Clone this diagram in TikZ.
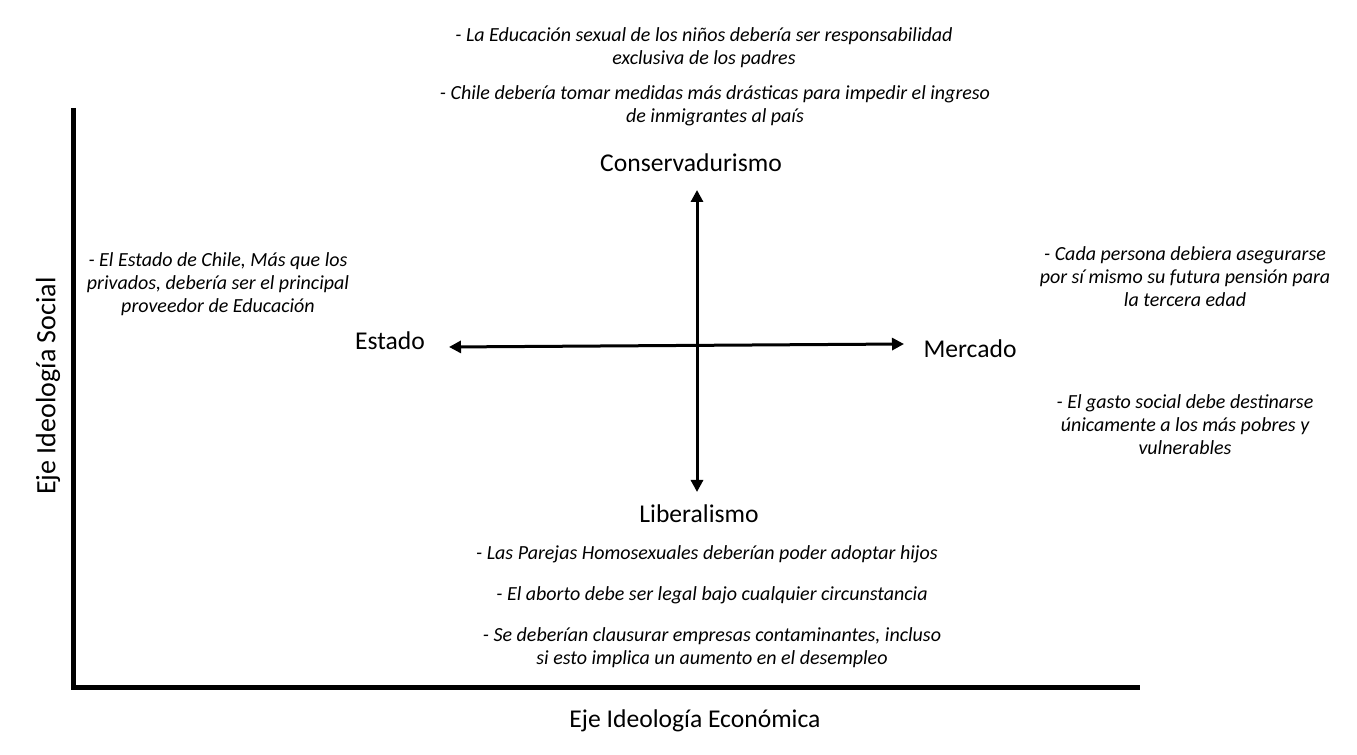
\documentclass[tikz,border=0pt]{standalone}
\usepackage{fontspec}
\setmainfont{Carlito}
\usetikzlibrary{arrows.meta}

\begin{document}
\begin{tikzpicture}[x=0.75pt, y=-0.75pt,
  every node/.style={align=center, inner sep=0pt},
  stmt/.style={font=\fontsize{15}{17.25}\selectfont\itshape},
  pole/.style={font=\fontsize{19.2}{23}\selectfont},
  axislabel/.style={font=\fontsize{19.2}{23}\selectfont}]

\useasboundingbox (0,0) rectangle (1357,755);

% Outer axes
\coordinate (axtop) at (73,108);
\coordinate (origin) at (73,687);
\coordinate (axright) at (1140,687);
\draw[line width=3.75pt] (axtop) -- (origin) -- (axright);
\node[axislabel, rotate=90, font=\fontsize{21}{23}\selectfont] (social) at (48,386) {Eje Ideología Social};
\node[axislabel] (economica) at (695,721) {Eje Ideología Económica};

% Poles of the quadrant
\node[pole] (conserv) at (691,163) {Conservadurismo};
\node[pole] (liberal) at (699,514) {Liberalismo};
\node[pole] (estado) at (390,341) {Estado};
\node[pole] (mercado) at (970,349) {Mercado};

\coordinate (up) at (697,190);
\coordinate (down) at (697,492);
\coordinate (left) at (449,347);
\coordinate (right) at (904,344);
\draw[{Triangle[length=9pt,width=9pt]}-{Triangle[length=9pt,width=9pt]}, line width=2.25pt] (up) -- (down);
\draw[{Triangle[length=9pt,width=9pt]}-{Triangle[length=9pt,width=9pt]}, line width=2.25pt] (left) -- (right);

% Conservative statements
\node[stmt] (educsex) at (704,48) {- La Educación sexual de los niños debería ser responsabilidad\\exclusiva de los padres};
\node[stmt] (inmig) at (715,106) {- Chile debería tomar medidas más drásticas para impedir el ingreso\\de inmigrantes al país};

% State statements
\node[stmt] (educ) at (218,284) {- El Estado de Chile, Más que los\\privados, debería ser el principal\\proveedor de Educación};

% Market statements
\node[stmt] (pension) at (1185,277) {- Cada persona debiera asegurarse\\por sí mismo su futura pensión para\\la tercera edad};
\node[stmt] (gasto) at (1185,425) {- El gasto social debe destinarse\\únicamente a los más pobres y\\vulnerables};

% Liberal statements
\node[stmt] (parejas) at (707,554) {- Las Parejas Homosexuales deberían poder adoptar hijos};
\node[stmt] (aborto) at (712,595) {- El aborto debe ser legal bajo cualquier circunstancia};
\node[stmt] (empresas) at (712,648) {- Se deberían clausurar empresas contaminantes, incluso\\si esto implica un aumento en el desempleo};

\end{tikzpicture}
\end{document}
